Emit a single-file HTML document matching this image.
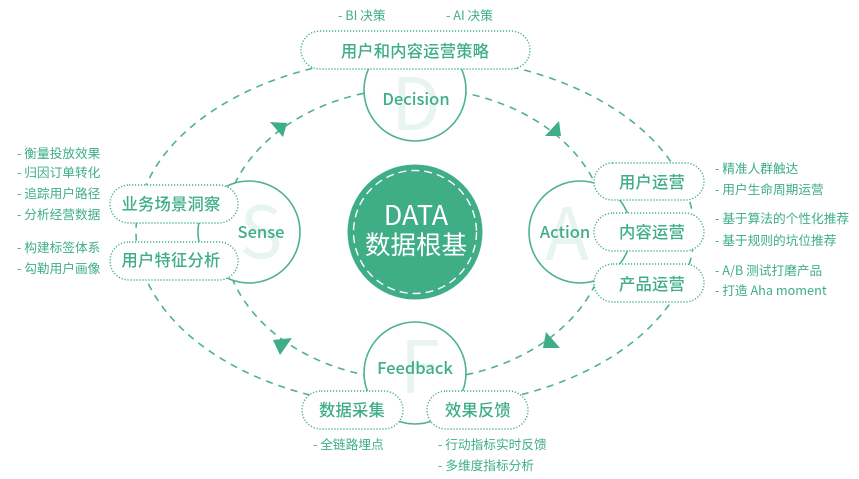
<!DOCTYPE html>
<html lang="zh">
<head>
<meta charset="utf-8">
<title>DATA 数据根基</title>
<style>
html,body{margin:0;padding:0;background:#fff;width:859px;height:479px;overflow:hidden}
svg{display:block;filter:blur(.3px)}
text{font-family:"Noto Sans CJK SC","Liberation Sans",sans-serif;fill:#3fae87}
.l{font-size:12.7px}
.p{font-size:16.3px;font-weight:500;text-anchor:middle;letter-spacing:.2px}
.n{font-size:16.5px;font-weight:500;text-anchor:middle}
.g{font-size:72px;text-anchor:middle;fill:#e8f4f0;font-weight:400}
.pill{fill:#fff;stroke:#3fae87;stroke-width:1.4;stroke-dasharray:1.2 1.8}
.c{fill:#fff;stroke:#4fb28f;stroke-width:1.6}
.d{fill:none;stroke:#4fb28f;stroke-width:1.6;stroke-dasharray:7 6}
.a{fill:#3fae87}
</style>
</head>
<body>
<svg width="859" height="479" viewBox="0 0 859 479" xmlns="http://www.w3.org/2000/svg">
<rect width="859" height="479" fill="#fff"/>
<ellipse class="d" cx="415" cy="232" rx="279" ry="176"/>
<ellipse class="d" cx="415" cy="234" rx="192" ry="146"/>

<polygon class="a" points="270,122 287,123 283,137"/>
<polygon class="a" points="292,338 273,340 280,355"/>
<polygon class="a" points="546,332 543,348 560,348"/>
<polygon class="a" points="559,121 545,136 561,136"/>

<circle class="c" cx="415" cy="90" r="51"/>
<circle class="c" cx="580" cy="232" r="51"/>
<circle class="c" cx="249" cy="232" r="51"/>
<circle class="c" cx="415" cy="373" r="51"/>

<text class="g" x="416" y="130">D</text>
<text class="g" x="567" y="260">A</text>
<text class="g" x="261" y="258">S</text>
<text class="g" x="420" y="393">F</text>

<text class="n" x="416" y="105">Decision</text>
<text class="n" x="565" y="238">Action</text>
<text class="n" x="261" y="238">Sense</text>
<text class="n" x="415" y="374">Feedback</text>

<circle cx="415" cy="232" r="67.5" fill="#3fae87"/>
<circle cx="415" cy="232" r="61.5" fill="none" stroke="#fff" stroke-width="1.4" stroke-dasharray="8 5"/>
<text x="416" y="225" text-anchor="middle" style="fill:#fff;font-size:27px">DATA</text>
<text x="416" y="254" text-anchor="middle" style="fill:#fff;font-size:25.5px">数据根基</text>

<rect class="pill" x="301" y="31" width="229" height="38" rx="19"/>
<rect class="pill" x="594" y="163" width="110" height="37" rx="18.5"/>
<rect class="pill" x="594" y="213" width="110" height="38" rx="19"/>
<rect class="pill" x="594" y="264" width="110" height="38" rx="19"/>
<rect class="pill" x="110" y="185" width="128" height="38" rx="19"/>
<rect class="pill" x="110" y="242" width="128" height="38" rx="19"/>
<rect class="pill" x="302" y="391" width="101" height="38" rx="19"/>
<rect class="pill" x="427" y="391" width="101" height="38" rx="19"/>

<text class="p" x="415" y="57">用户和内容运营策略</text>
<text class="p" x="652" y="188">用户运营</text>
<text class="p" x="652" y="238">内容运营</text>
<text class="p" x="652" y="290">产品运营</text>
<text class="p" x="171" y="210">业务场景洞察</text>
<text class="p" x="171" y="266">用户特征分析</text>
<text class="p" x="352" y="416">数据采集</text>
<text class="p" x="478" y="416">效果反馈</text>

<text class="l" x="338" y="20">- BI 决策</text>
<text class="l" x="446" y="20">- AI 决策</text>

<text class="l" x="17" y="158">- 衡量投放效果</text>
<text class="l" x="17" y="177">- 归因订单转化</text>
<text class="l" x="17" y="198">- 追踪用户路径</text>
<text class="l" x="17" y="219">- 分析经营数据</text>
<text class="l" x="17" y="252">- 构建标签体系</text>
<text class="l" x="17" y="273">- 勾勒用户画像</text>

<text class="l" x="715" y="173">- 精准人群触达</text>
<text class="l" x="715" y="194">- 用户生命周期运营</text>
<text class="l" x="715" y="223">- 基于算法的个性化推荐</text>
<text class="l" x="715" y="245">- 基于规则的坑位推荐</text>
<text class="l" x="715" y="275">- A/B 测试打磨产品</text>
<text class="l" x="715" y="295">- 打造 Aha moment</text>

<text class="l" x="313" y="449">- 全链路埋点</text>
<text class="l" x="438" y="449">- 行动指标实时反馈</text>
<text class="l" x="438" y="470">- 多维度指标分析</text>
</svg>
</body>
</html>
